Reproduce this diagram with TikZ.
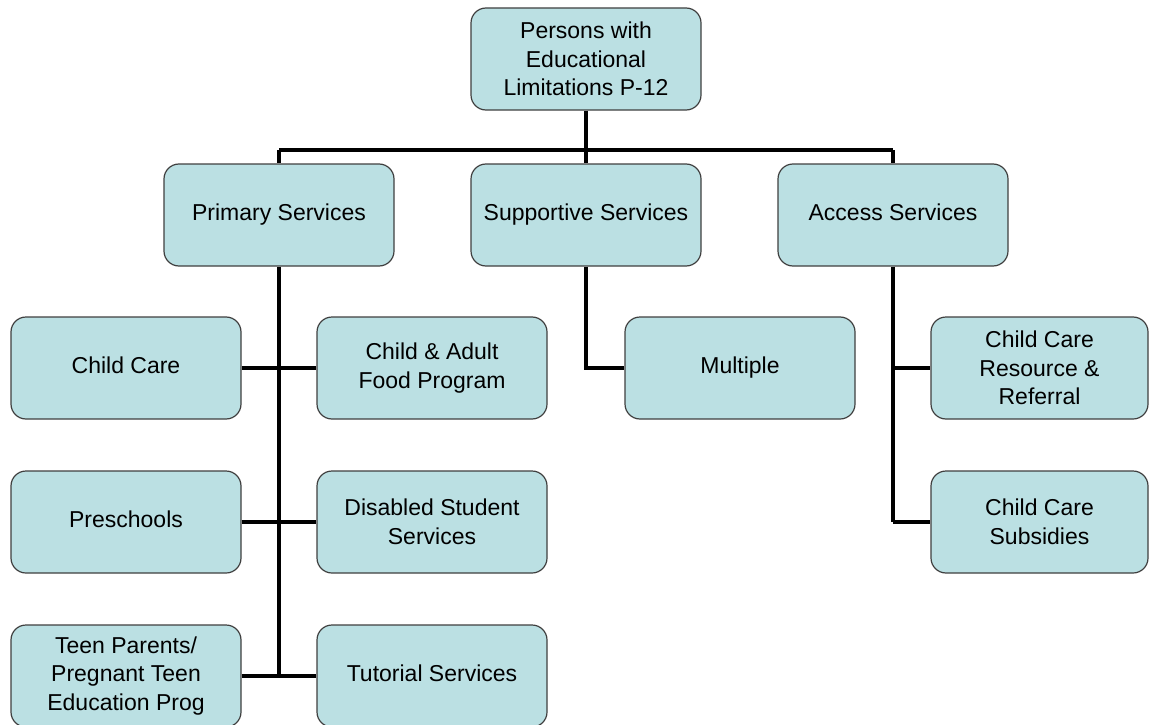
\documentclass[tikz,border=0pt]{standalone}
\usepackage{fontspec}
\setmainfont{Liberation Sans}
\definecolor{boxfill}{RGB}{187,224,227}
\definecolor{boxline}{RGB}{64,64,64}
\begin{document}
\begin{tikzpicture}[x=1pt,y=-1pt,
  box/.style={draw=boxline, line width=1.2pt, fill=boxfill, rounded corners=15pt,
    minimum width=230pt, minimum height=102pt, inner sep=2pt, align=center,
    font=\fontsize{23}{28.5}\selectfont},
  conn/.style={line width=3.8pt, black}]
\useasboundingbox (0,0) rectangle (1149,725);
\fill[white] (0,0) rectangle (1149,725);
\coordinate (bus) at (586,150);
\coordinate (busL) at (279,150);
\coordinate (busR) at (893,150);
\coordinate (pEnd) at (279,677);
\coordinate (aEnd) at (893,522);
% nodes
\node[box] (top) at (586,59) {Persons with\\Educational\\Limitations P-12};
\node[box] (prim) at (279,215) {\strut Primary Services};
\node[box] (supp) at (586,215) {\strut Supportive Services};
\node[box] (acc) at (893,215) {\strut Access Services};
\node[box] (cc) at (126,368) {\strut Child Care};
\node[box] (food) at (432,368) {Child \& Adult\\Food Program};
\node[box] (pre) at (126,522) {\strut Preschools};
\node[box] (dis) at (432,522) {Disabled Student\\Services};
\node[box] (teen) at (126,676) {Teen Parents/\\Pregnant Teen\\Education Prog};
\node[box] (tut) at (432,676) {\strut Tutorial Services};
\node[box] (mult) at (740,368) {\strut Multiple};
\node[box, minimum width=217pt] (ccrr) at (1039.5,368) {Child Care\\Resource \&\\Referral};
\node[box, minimum width=217pt] (ccs) at (1039.5,522) {Child Care\\Subsidies};
% connectors
\draw[conn] (top.south) -- (bus);
\draw[conn] (busL) -- (busR);
\draw[conn] (busL) -- (prim.north);
\draw[conn] (bus) -- (supp.north);
\draw[conn] (busR) -- (acc.north);
\draw[conn] (prim.south) -- (pEnd);
\draw[conn] (cc.east) -- (food.west);
\draw[conn] (pre.east) -- (dis.west);
\draw[conn] (teen.east) -- (tut.west);
\draw[conn] (supp.south) |- (mult.west);
\draw[conn] (acc.south) -- (aEnd);
\draw[conn] (acc.south |- ccrr.west) -- (ccrr.west);
\draw[conn] (aEnd) -- (ccs.west);
\end{tikzpicture}
\end{document}
